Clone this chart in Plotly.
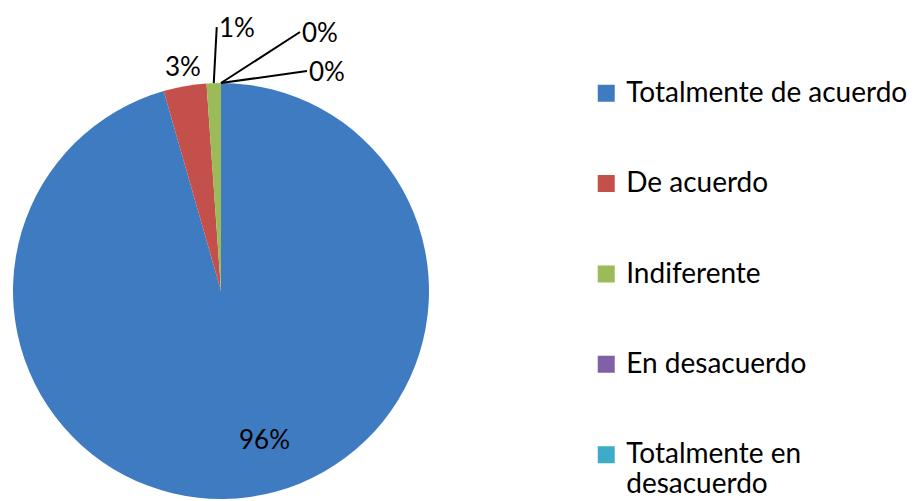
import math
import plotly.graph_objects as go

# Survey responses (counts per answer)
labels = [
    "Totalmente de acuerdo",
    "De acuerdo",
    "Indiferente",
    "En desacuerdo",
    "Totalmente en<br>desacuerdo",
]
counts = [86, 3, 1, 0, 0]
colors = ["#3F7BC1", "#C4504B", "#9BBB59", "#7F62A5", "#3EABC8"]

total = sum(counts)
pct_text = [f"{round(100 * c / total)}%" for c in counts]

FONT = "Lato, 'Open Sans', sans-serif"
LABEL_SIZE = 26
LEGEND_SIZE = 28


def legend_entry(lab):
    # larger glyphs inside a smaller base line height; blank lines pad the entry
    lines = lab.split("<br>")
    styled = "<br>".join(f"<span style='font-size:{LEGEND_SIZE}px'>{ln}</span>" for ln in lines)
    pad = 3 - len(lines)
    return styled + "<br> " * pad


legend_names = [legend_entry(lab) for lab in labels]

W, H = 916, 501
cx, cy, R = 221, 291, 208  # pie centre / radius in pixels


def domain_for(x0, y0, r):
    return dict(x=[(x0 - r) / W, (x0 + r) / W], y=[(H - y0 - r) / H, (H - y0 + r) / H])


fig = go.Figure()
# legend carrier: same data, thick same-colour outline for larger swatches,
# tucked underneath the main pie so only its legend entries show
fig.add_trace(go.Pie(
    labels=legend_names,
    values=counts,
    marker=dict(colors=colors, line=dict(color=colors, width=5)),
    sort=False,
    direction="clockwise",
    textinfo="none",
    hoverinfo="skip",
    domain=domain_for(cx, cy + 110, 10),
    showlegend=True,
))
# main pie
fig.add_trace(go.Pie(
    labels=legend_names,
    values=counts,
    marker=dict(colors=colors, line=dict(width=0)),
    sort=False,
    direction="clockwise",
    rotation=0,
    textinfo="none",
    domain=domain_for(cx, cy, R),
    hovertemplate="%{percent}<extra></extra>",
    showlegend=False,
))

# percentage labels placed around each slice's mid angle
anchor_r = [0.72, 1.0, 1.0, 1.0, 1.0]
shifts = [(23, 0), (-2, -20), None, None, None]
arrows = [None, None, (3, -56), (79, -51), (86, -12)]
cum = 0
for i, c in enumerate(counts):
    mid = cum + c / 2
    cum += c
    theta = 2 * math.pi * mid / total
    px = cx + anchor_r[i] * R * math.sin(theta)
    py = cy - anchor_r[i] * R * math.cos(theta)
    xp, yp = px / W, 1 - py / H
    font = dict(family=FONT, size=LABEL_SIZE, color="#000000")
    if arrows[i] is None:
        fig.add_annotation(
            x=xp, y=yp, xref="paper", yref="paper", text=pct_text[i],
            xanchor="center", yanchor="middle",
            showarrow=False, xshift=shifts[i][0], yshift=-shifts[i][1], font=font,
        )
    else:
        ax, ay = arrows[i]
        fig.add_annotation(
            x=xp, y=yp, xref="paper", yref="paper", text=pct_text[i],
            showarrow=True, arrowhead=0, arrowwidth=2, arrowcolor="#000000",
            ax=ax, ay=ay, xanchor="left", yanchor="middle", standoff=0, font=font,
        )

fig.update_layout(
    width=W, height=H,
    margin=dict(l=0, r=0, t=0, b=0, autoexpand=False),
    paper_bgcolor="#FFFFFF",
    plot_bgcolor="#FFFFFF",
    showlegend=True,
    legend=dict(
        x=0.640, y=0.856, xanchor="left", yanchor="top",
        valign="top",
        font=dict(family=FONT, size=22.4, color="#000000"),
        itemclick=False,
    ),
)

fig.write_html("out.html")
